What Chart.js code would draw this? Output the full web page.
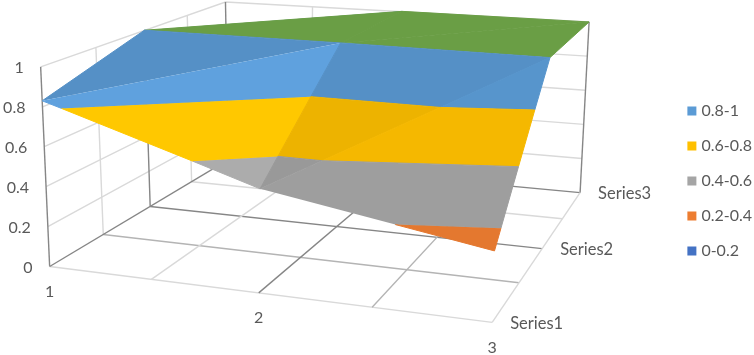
<!DOCTYPE html>
<html><head><meta charset="utf-8">
<style>html,body{margin:0;padding:0;background:#fff}canvas{display:block}</style>
<script src="https://cdn.jsdelivr.net/npm/chart.js@4"></script></head>
<body><canvas id="c" width="754" height="355"></canvas>
<script>
// ---- data ----
const categories = ['1','2','3'];
const seriesNames = ['Series1','Series2','Series3'];
const series1 = [0.83,0.5,0.33];
const series2 = [1,1,1];
const series3 = [0.8,1,1];
const zTicks = [0,0.2,0.4,0.6,0.8,1];
const bandLabels = ['0.8-1','0.6-0.8','0.4-0.6','0.2-0.4','0-0.2'];
const bandLows = [0.8,0.6,0.4,0.2,0];
const bandColors = ['#5B9BD5','#FFC000','#A5A5A5','#ED7D31','#4472C4'];

// ---- view of the 3D box (perspective) ----
const floorQuad = [[49,267],[492,323],[580,193],[228,160]];
const topQuadX  = [[40,67],[499,98],[589,22],[225,2]];
const topQuadY  = [[40,67],[499,106],[589,22],[225,2]];
function homography(q){
  const [[x0,y0],[x1,y1],[x2,y2],[x3,y3]]=q;
  const dx1=x1-x2,dx2=x3-x2,sx=x0-x1+x2-x3,dy1=y1-y2,dy2=y3-y2,sy=y0-y1+y2-y3;
  const den=dx1*dy2-dx2*dy1,g=(sx*dy2-dx2*sy)/den,h=(dx1*sy-sx*dy1)/den;
  const a=x1-x0+g*x1,b=x3-x0+h*x3,d=y1-y0+g*y1,e=y3-y0+h*y3;
  return (u,v)=>{const w=g*u+h*v+1;return [(a*u+b*v+x0)/w,(d*u+e*v+y0)/w];};
}
const floorH=homography(floorQuad), topHX=homography(topQuadX), topHY=homography(topQuadY);
function project(u,v,z){
  const f=floorH(u,v),tx=topHX(u,v)[0],ty=topHY(u,v)[1];
  return {x:f[0]+(tx-f[0])*z,y:f[1]+(ty-f[1])*z};
}
const rows=[series1,series2,series3];
const vtx=(c,s)=>({u:c/2,v:s/2,z:rows[s][c]});

function shade(hex,k){
  const n=parseInt(hex.slice(1),16);
  const f=x=>Math.max(0,Math.min(255,Math.round(x*k)));
  return `rgb(${f(n>>16)},${f((n>>8)&255)},${f(n&255)})`;
}
function clip(poly,keep,sign){
  const out=[];
  for(let i=0;i<poly.length;i++){
    const a=poly[i],b=poly[(i+1)%poly.length];
    const da=sign*(a.z-keep),db=sign*(b.z-keep);
    if(da>=0)out.push(a);
    if(da*db<0){const t=da/(da-db);out.push({u:a.u+(b.u-a.u)*t,v:a.v+(b.v-a.v)*t,z:a.z+(b.z-a.z)*t});}
  }
  return out;
}
const datasets=[];
function addLine(pts,color,w){
  datasets.push({data:pts.map(p=>project(p[0],p[1],p[2])),showLine:true,borderColor:color,borderWidth:w||1.4,pointRadius:0,fill:false,clip:false,tension:0});
}
const LIGHT='#D9D9D9',MID='#B4B4B4',DARK='#868686';
// walls
zTicks.slice(1).forEach(z=>{addLine([[0,0,z],[0,1,z],[1,1,z]],LIGHT);});
[0.25,0.75].forEach(v=>addLine([[0,v,0],[0,v,1]],LIGHT));
[0,0.5,1].forEach(v=>addLine([[0,v,0],[0,v,1]],DARK));
[0.25,0.75].forEach(u=>addLine([[u,1,0],[u,1,1]],LIGHT));
addLine([[0.5,1,0],[0.5,1,1]],DARK);
addLine([[1,1,0],[1,1,1]],DARK);
// floor
addLine([[0,0,0],[1,0,0]],LIGHT);
addLine([[0,0.25,0],[1,0.25,0]],MID);
addLine([[0,0.5,0],[1,0.5,0]],DARK);
addLine([[0,0.75,0],[1,0.75,0]],LIGHT);
addLine([[0,1,0],[1,1,0]],DARK);
addLine([[1,0,0],[1,1,0]],LIGHT);
addLine([[0.25,0,0],[0.25,1,0]],LIGHT);
addLine([[0.5,0,0],[0.5,1,0]],DARK);
addLine([[0.75,0,0],[0.75,1,0]],MID);
addLine([[0,0,0],[0,1,0]],DARK);

// surface, back to front: [three grid vertices, brightness]
const tris=[
 [[0,1],[0,2],[1,2],1],
 [[1,1],[1,2],[2,2],1],
 [[1,1],[2,2],[2,1],1],
 [[0,1],[1,2],[1,1],1],
 [[0,0],[0,1],[1,1],0.93],
 [[0,0],[1,0],[1,1],1.04],
 [[1,0],[1,1],[2,1],0.93],
 [[1,0],[2,1],[2,0],0.96],
];
const TOP_GREEN='#6A9E45';
tris.forEach(t=>{
  const tri=[vtx(t[0][0],t[0][1]),vtx(t[1][0],t[1][1]),vtx(t[2][0],t[2][1])];
  const k=t[3];
  const emit=(poly,col)=>{
    if(poly.length<3)return;
    datasets.push({data:poly.map(p=>project(p.u,p.v,p.z)),showLine:true,fill:'shape',backgroundColor:col,borderColor:col,borderWidth:1,pointRadius:0,clip:false,tension:0});
  };
  if(tri.every(p=>p.z>=1)){emit(tri,TOP_GREEN);return;}
  bandLows.forEach((lo,i)=>{
    const hi=lo+0.2;
    let poly=clip(tri,lo,1);
    if(poly.length)poly=clip(poly,hi,-1);
    emit(poly,shade(bandColors[i],k));
  });
});
// later = on top; Chart.js draws first dataset last
datasets.reverse();
// legend entries (no marks of their own)
bandLabels.forEach((l,i)=>datasets.push({label:l,data:[],backgroundColor:bandColors[i],borderColor:bandColors[i],borderWidth:0,showLine:false,pointRadius:0}));

const FONT='Lato, Carlito, sans-serif', INK='#595959';
const axisText={id:'axisText',afterDatasetsDraw(ch){
  const c=ch.ctx,X=ch.scales.x,Y=ch.scales.y;
  const px=p=>({x:X.getPixelForValue(p.x),y:Y.getPixelForValue(p.y)});
  c.save();c.fillStyle=INK;c.textBaseline='middle';c.font='16px '+FONT;
  c.textAlign='right';
  zTicks.forEach(z=>{const p=px(project(0,0,z));c.fillText(String(z),p.x-17,p.y+1);});
  c.textAlign='center';
  categories.forEach((t,i)=>{const p=px(project(i/2,0,0));c.fillText(t,p.x,p.y+25);});
  c.textAlign='left';
  c.font='16.5px '+FONT;
  seriesNames.forEach((t,i)=>{const p=px(project(1,i/2,0));c.fillText(t,p.x+18,p.y+1);});
  c.restore();
}};
const chart=new Chart(document.getElementById('c'),{
  type:'scatter',
  data:{datasets},
  plugins:[axisText],
  options:{
    responsive:false,animation:false,
    layout:{padding:{top:7,right:-8,left:0,bottom:0}},
    plugins:{tooltip:{enabled:false},
      legend:{position:'right',align:'center',
        labels:{usePointStyle:true,pointStyle:'rect',boxWidth:3,boxHeight:9,padding:19,color:INK,font:{family:FONT,size:16},
          filter:i=>!!i.text}}},
    scales:{
      x:{type:'linear',display:false,min:0,max:754},
      y:{type:'linear',display:false,reverse:true,min:0,max:355}
    }
  }
});
const a=chart.chartArea;
chart.options.scales.x.min=a.left;chart.options.scales.x.max=a.right;
chart.options.scales.y.min=a.top;chart.options.scales.y.max=a.bottom;
chart.update('none');
</script></body></html>
